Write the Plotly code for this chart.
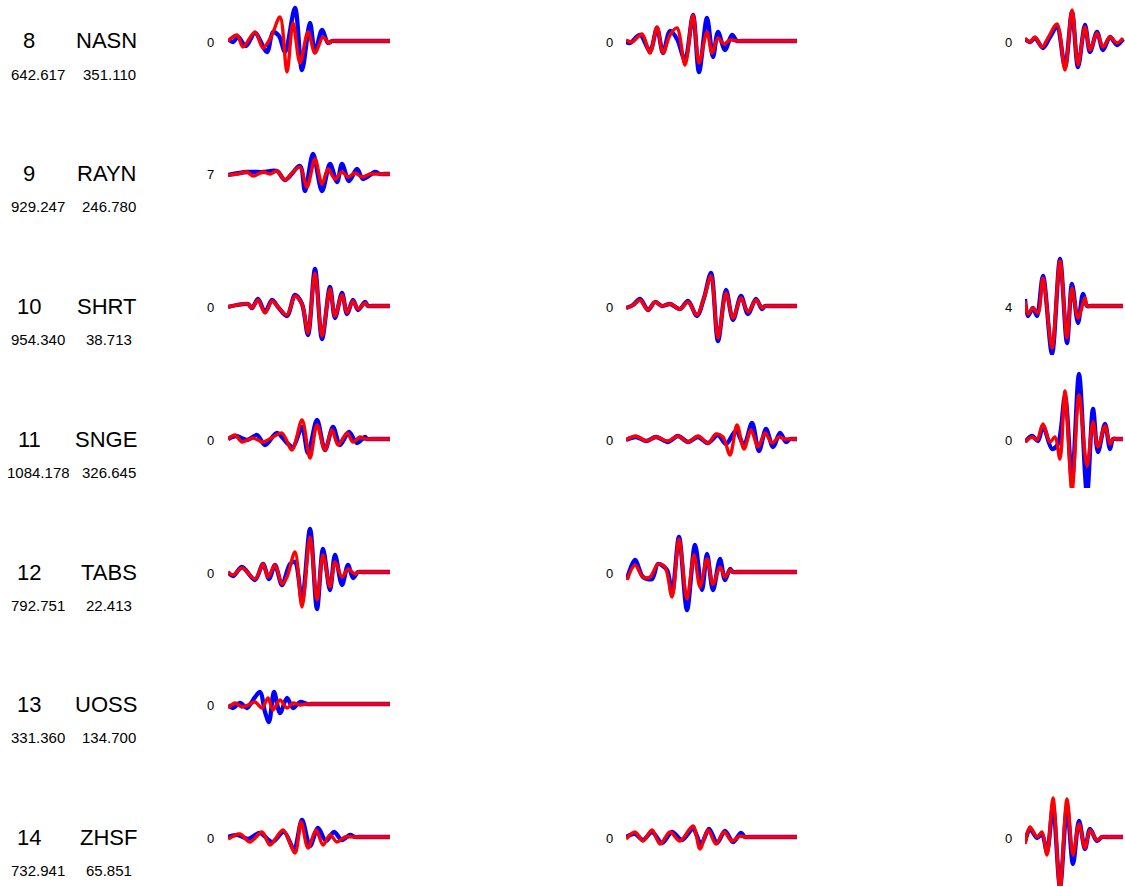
import plotly.graph_objects as go

# ---------------------------------------------------------------------------
# Station table
# ---------------------------------------------------------------------------
station_index = ["8", "9", "10", "11", "12", "13", "14"]
station_name = ["NASN", "RAYN", "SHRT", "SNGE", "TABS", "UOSS", "ZHSF"]
station_dist = ["642.617", "929.247", "954.340", "1084.178", "792.751", "331.360", "732.941"]
station_azim = ["351.110", "246.780", "38.713", "326.645", "22.413", "134.700", "65.851"]

# ---------------------------------------------------------------------------
# Waveforms: (time sample, amplitude) at successive extrema.
# obs = observed (blue), syn = synthetic (red). Column 1/2/3 = component window.
# The trailing zero stretch is the padded part of each window.
# ---------------------------------------------------------------------------
nasn_c1_obs = [(0, 2), (5, -1), (10, 4), (18, -5), (27, 8), (39, -11), (45, 9), (51, 5), (57, -11), (67, 33),
               (74, -29), (82, 18), (87, -11), (94, 11), (100, -2), (104, 0), (108, 0), (162, 0)]
nasn_c1_syn = [(0, 0), (9, 6), (15, -6), (27, 9), (35, -7), (43, 4), (52, 24), (59, -31), (65, 18), (72, -22),
               (80, 9), (87, -12), (95, 4), (101, -2), (104, 0), (108, 0), (162, 0)]
nasn_c2_obs = [(0, -1), (4, -2), (14, 6), (24, -10), (31, 13), (37, -12), (44, 10), (51, 2), (59, -19), (67, 26),
               (73, -31), (81, 23), (87, -16), (92, 9), (99, -9), (106, 6), (111, 0), (115, 0), (171, 0)]
nasn_c2_syn = [(0, 1), (6, -1), (16, 7), (24, -12), (31, 14), (37, -12), (44, 6), (51, 13), (59, -24), (67, 26),
               (73, -22), (81, 9), (86, -12), (92, 3), (98, -3), (104, 1), (111, 0), (115, 0), (171, 0)]
nasn_c3_obs = [(0, 2), (5, -1), (10, 3), (18, -7), (25, 4), (32, 14), (40, -26), (47, 29), (53, -26), (60, 16),
               (65, -11), (72, 9), (78, -9), (85, 4), (92, -4), (98, 2)]
nasn_c3_syn = [(0, 3), (5, -1), (10, 4), (17, -6), (23, 3), (32, 17), (40, -29), (47, 31), (53, -24), (60, 14),
               (65, -9), (72, 8), (78, -6), (85, 4), (92, -2), (98, 3)]

rayn_c1_obs = [(0, -1), (19, 2), (35, 2), (49, 3), (57, -6), (72, 8), (77, -17), (85, 20), (94, -17), (102, 10),
               (109, -8), (114, 10), (121, -7), (129, 5), (135, -5), (147, 2), (152, 0), (156, 0), (162, 0)]
rayn_c1_syn = [(0, -1), (9, 0), (19, 2), (25, -2), (35, 2), (42, 0), (49, 3), (57, -6), (65, 2), (72, 7),
               (79, -13), (87, 15), (94, -10), (100, 5), (107, -5), (114, 2), (120, -3), (127, 1), (134, -3),
               (142, 0), (146, 0), (162, 0)]

shrt_c1_obs = [(0, -1), (9, 1), (20, 2), (24, -2), (30, 7), (37, -6), (44, 6), (50, -1), (59, -10), (67, 11),
               (74, 2), (80, -29), (87, 37), (94, -33), (102, 19), (107, -12), (114, 13), (119, -8), (125, 6),
               (130, -4), (137, 4), (140, 0), (144, 0), (162, 0)]
shrt_c1_syn = [(0, -1), (9, 1), (20, 2), (24, -2), (30, 6), (37, -7), (44, 5), (50, -1), (59, -9), (67, 10),
               (74, 2), (80, -27), (87, 33), (94, -30), (102, 17), (107, -10), (114, 11), (119, -7), (125, 5),
               (130, -3), (137, 3), (140, 0), (144, 0), (162, 0)]
shrt_c2_obs = [(0, -2), (7, 1), (14, 7), (22, -4), (29, 4), (36, 0), (44, 2), (54, -3), (62, 5), (71, -10),
               (78, 8), (85, 33), (92, -35), (100, 16), (107, -14), (115, 10), (122, -8), (130, 7), (136, -3),
               (139, 0), (143, 0), (171, 0)]
shrt_c2_syn = [(0, -2), (7, 1), (14, 6), (22, -4), (29, 4), (36, 0), (44, 2), (54, -3), (62, 4), (71, -9),
               (78, 8), (85, 30), (92, -32), (100, 13), (107, -12), (115, 8), (122, -6), (130, 6), (136, -2),
               (139, 0), (143, 0), (171, 0)]
shrt_c3_obs = [(0, 7), (3, -10), (8, -2), (12, -10), (18, 30), (27, -48), (35, 47), (42, -37), (47, 22),
               (53, -17), (58, 12), (62, 0), (66, 0), (98, 0)]
shrt_c3_syn = [(0, 5), (3, -8), (8, -2), (13, -7), (18, 28), (27, -42), (35, 45), (42, -32), (47, 18),
               (53, -12), (60, 8), (62, 0), (66, 0), (98, 0)]

snge_c1_obs = [(0, 0), (8, 3), (19, -1), (29, 4), (37, -6), (49, 6), (59, -4), (65, -8), (74, 12), (80, -14),
               (89, 19), (97, -11), (105, 12), (112, -6), (121, 7), (129, -4), (137, 2), (139, 0), (143, 0),
               (162, 0)]
snge_c1_syn = [(0, 0), (7, 4), (14, -3), (25, 1), (35, -3), (45, 2), (54, 6), (64, -11), (74, 19), (82, -19),
               (89, 14), (97, -11), (104, 9), (110, -6), (119, 6), (125, -3), (132, 2), (137, 0), (141, 0),
               (162, 0)]
snge_c2_obs = [(0, -1), (10, 2), (20, -2), (30, 2), (42, -3), (52, 3), (62, -3), (72, 2), (82, -4), (92, 4),
               (100, -5), (110, 8), (118, -6), (126, 16), (133, -12), (140, 10), (147, -8), (154, 6), (160, -3),
               (164, 0), (167, 0), (171, 0)]
snge_c2_syn = [(0, -1), (10, 3), (20, -2), (30, 2), (42, -2), (52, 3), (62, -3), (72, 3), (82, -4), (90, 5),
               (97, 2), (104, -16), (111, 14), (118, -10), (125, 9), (132, -8), (139, 6), (146, -4), (153, 2),
               (158, 0), (162, 0), (171, 0)]
snge_c3_obs = [(0, -3), (7, 3), (13, -2), (18, 13), (27, -10), (33, -5), (40, 43), (47, -40), (54, 65), (62, -55),
               (68, 30), (73, -13), (80, 15), (85, -10), (88, 0), (92, 0), (98, 0)]
snge_c3_syn = [(0, -3), (7, 2), (12, -1), (18, 15), (25, -3), (30, 2), (35, -20), (40, 48), (47, -52), (54, 44),
               (62, -27), (68, 17), (73, -8), (80, 13), (85, -5), (88, 0), (92, 0), (98, 0)]

tabs_c1_obs = [(0, 0), (5, -4), (14, 5), (27, -8), (35, 8), (41, -7), (47, 7), (54, -13), (62, 8), (67, 10),
               (74, -28), (82, 43), (89, -37), (95, 23), (102, -18), (107, 17), (114, -13), (120, 7), (125, -6),
               (130, 0), (134, 0), (162, 0)]
tabs_c1_syn = [(0, 0), (5, -3), (14, 4), (27, -7), (35, 8), (40, -5), (47, 7), (54, -12), (59, -5), (67, 20),
               (74, -35), (82, 35), (89, -28), (95, 17), (102, -15), (107, 10), (114, -5), (120, 3), (127, -2),
               (130, 0), (134, 0), (162, 0)]
tabs_c2_obs = [(1, -7), (9, 12), (17, -5), (26, -7), (32, 8), (41, 2), (46, -22), (53, 35), (61, -38), (69, 27),
               (76, -18), (81, 18), (87, -18), (94, 13), (99, -8), (104, 3), (107, 0), (111, 0), (171, 0)]
tabs_c2_syn = [(1, -8), (9, 7), (17, -5), (24, -5), (32, 8), (39, 5), (46, -25), (53, 33), (61, -27), (68, 17),
               (74, -15), (81, 13), (87, -12), (94, 5), (99, -5), (104, 2), (107, 0), (111, 0), (171, 0)]

uoss_c1_obs = [(0, -1), (5, -4), (12, 1), (19, -4), (25, 4), (32, 12), (37, -8), (41, -18), (46, 12), (52, -9),
               (59, 6), (65, -4), (72, 2), (79, 0), (83, 0), (162, 0)]
uoss_c1_syn = [(0, -4), (7, 1), (14, -3), (20, -1), (27, 2), (34, -4), (40, 6), (45, -6), (52, 4), (59, -4),
               (65, 1), (72, -1), (79, 0), (83, 0), (162, 0)]

zhsf_c1_obs = [(0, 0), (10, 2), (20, -2), (32, 4), (44, -5), (56, 5), (66, -12), (74, 17), (82, -9), (90, 9),
               (98, -4), (106, 5), (114, -3), (122, 2), (127, 0), (131, 0), (162, 0)]
zhsf_c1_syn = [(0, -2), (12, 3), (22, -5), (34, 5), (42, -8), (55, 7), (67, -16), (73, 15), (80, -11), (88, 7),
               (95, -8), (102, 2), (109, -5), (117, 0), (127, 0), (131, 0), (162, 0)]
zhsf_c2_obs = [(0, 0), (9, 3), (17, -3), (26, 5), (36, -6), (46, 5), (56, -3), (67, 8), (75, -7), (83, 8),
               (91, -6), (99, 6), (107, -5), (115, 4), (119, 0), (123, 0), (171, 0)]
zhsf_c2_syn = [(0, -2), (9, 5), (17, -4), (26, 7), (34, -7), (44, 5), (54, -4), (67, 11), (74, -12), (82, 7),
               (90, -7), (98, 5), (106, -4), (114, 1), (119, 0), (123, 0), (171, 0)]
zhsf_c3_obs = [(0, -5), (5, 8), (12, -1), (17, 3), (22, -15), (28, 30), (35, -50), (42, 30), (48, -27), (54, 16),
               (60, -12), (65, 8), (72, -4), (77, 0), (81, 0), (98, 0)]
zhsf_c3_syn = [(0, -7), (5, 10), (12, 0), (17, 5), (22, -18), (28, 39), (35, -52), (42, 38), (48, -18), (54, 13),
               (60, -11), (65, 7), (72, -3), (77, 0), (81, 0), (98, 0)]

panels = [
    # (row, column, observed, synthetic, time-shift label)
    (0, 0, nasn_c1_obs, nasn_c1_syn, "0"),
    (0, 1, nasn_c2_obs, nasn_c2_syn, "0"),
    (0, 2, nasn_c3_obs, nasn_c3_syn, "0"),
    (1, 0, rayn_c1_obs, rayn_c1_syn, "7"),
    (2, 0, shrt_c1_obs, shrt_c1_syn, "0"),
    (2, 1, shrt_c2_obs, shrt_c2_syn, "0"),
    (2, 2, shrt_c3_obs, shrt_c3_syn, "4"),
    (3, 0, snge_c1_obs, snge_c1_syn, "0"),
    (3, 1, snge_c2_obs, snge_c2_syn, "0"),
    (3, 2, snge_c3_obs, snge_c3_syn, "0"),
    (4, 0, tabs_c1_obs, tabs_c1_syn, "0"),
    (4, 1, tabs_c2_obs, tabs_c2_syn, "0"),
    (5, 0, uoss_c1_obs, uoss_c1_syn, "0"),
    (6, 0, zhsf_c1_obs, zhsf_c1_syn, "0"),
    (6, 1, zhsf_c2_obs, zhsf_c2_syn, "0"),
    (6, 2, zhsf_c3_obs, zhsf_c3_syn, "0"),
]

# ---------------------------------------------------------------------------
# Page geometry (pixels)
# ---------------------------------------------------------------------------
W, H = 1125, 887
ROW_Y = [41, 174, 306, 439, 572, 704, 837]
COL_X0 = [228, 626, 1025]
COL_X1 = [390, 797, 1125]
SHIFT_X = [210, 609, 1008]
UP, DOWN = 70, 49          # visible amplitude above / below the baseline
FONT = "Liberation Sans, Arial, Helvetica, sans-serif"

OBS_COLOR = "#0000ff"
SYN_COLOR = "#ff0000"

fig = go.Figure()
layout = {}
annotations = []


def px_x(x):
    return x / W


def px_y(y):
    return (H - y) / H


for k, (r, c, obs, syn, shift) in enumerate(panels, start=1):
    xa = "x" if k == 1 else f"x{k}"
    ya = "y" if k == 1 else f"y{k}"
    xkey = "xaxis" if k == 1 else f"xaxis{k}"
    ykey = "yaxis" if k == 1 else f"yaxis{k}"

    yc = ROW_Y[r]
    top = max(0, yc - UP)
    bot = min(H, yc + DOWN)
    x0, x1 = COL_X0[c], COL_X1[c]

    layout[xkey] = dict(domain=[px_x(x0), px_x(x1)], range=[0, x1 - x0], anchor=ya,
                        visible=False, fixedrange=True)
    layout[ykey] = dict(domain=[px_y(bot), px_y(top)], range=[-(bot - yc), yc - top], anchor=xa,
                        visible=False, fixedrange=True)

    for series, color, width in ((obs, OBS_COLOR, 4.3), (syn, SYN_COLOR, 3.4)):
        fig.add_trace(go.Scatter(
            x=[p[0] for p in series], y=[p[1] for p in series],
            mode="lines", line=dict(color=color, width=width, shape="spline", smoothing=0.9),
            xaxis=xa, yaxis=ya, showlegend=False, hoverinfo="skip"))

    annotations.append(dict(x=px_x(SHIFT_X[c]), y=px_y(yc + 1), xref="paper", yref="paper",
                            text=shift, showarrow=False, xanchor="center", yanchor="middle",
                            font=dict(family=FONT, size=13, color="black")))

# Station labels: index, name, distance and azimuth
for r in range(len(station_name)):
    yc = ROW_Y[r]
    annotations.append(dict(x=px_x(29), y=px_y(yc), xref="paper", yref="paper", text=station_index[r],
                            showarrow=False, xanchor="center", yanchor="middle",
                            font=dict(family=FONT, size=22, color="black")))
    annotations.append(dict(x=px_x(139), y=px_y(yc), xref="paper", yref="paper", text=station_name[r],
                            showarrow=False, xanchor="right", yanchor="middle",
                            font=dict(family=FONT, size=22, color="black")))
    annotations.append(dict(x=px_x(38), y=px_y(yc + 33), xref="paper", yref="paper", text=station_dist[r],
                            showarrow=False, xanchor="center", yanchor="middle",
                            font=dict(family=FONT, size=15, color="black")))
    annotations.append(dict(x=px_x(109), y=px_y(yc + 33), xref="paper", yref="paper", text=station_azim[r],
                            showarrow=False, xanchor="center", yanchor="middle",
                            font=dict(family=FONT, size=15, color="black")))

fig.update_layout(
    width=W, height=H,
    margin=dict(l=0, r=0, t=0, b=0),
    paper_bgcolor="white", plot_bgcolor="rgba(0,0,0,0)",
    annotations=annotations,
    **layout,
)

fig.write_html("out.html", config={"displayModeBar": False})
